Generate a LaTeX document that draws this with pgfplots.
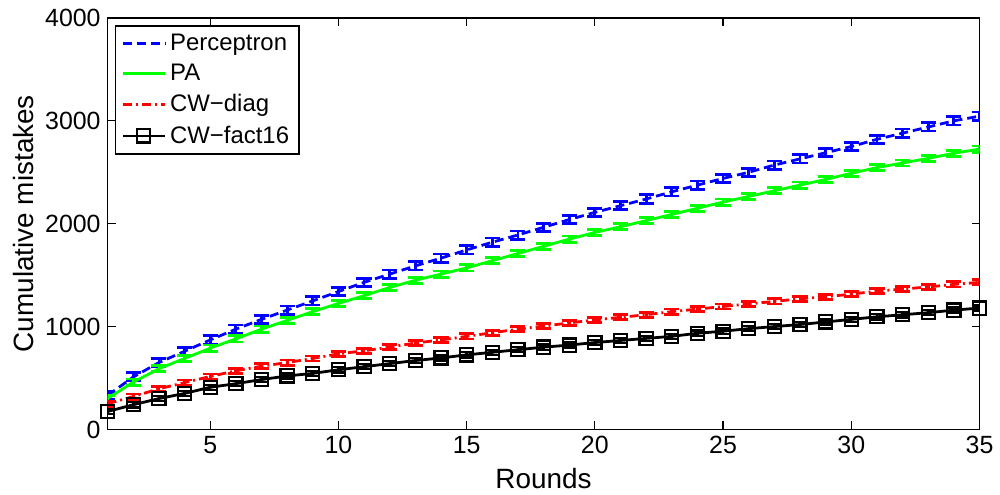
\documentclass[border=0pt]{standalone}
\usepackage{fontspec}
\setmainfont{Liberation Sans}
\usepackage{pgfplots}
\pgfplotsset{compat=1.18}
\usepackage{pgfplotstable}
\pgfplotstableread{
x per pa diag fact
1 330 300 250 175
2 510 460 320 240
3 650 590 395 300
4 760 690 455 350
5 870 790 515 410
6 975 880 570 445
7 1070 975 615 485
8 1160 1060 650 520
9 1250 1145 690 545
10 1340 1225 735 580
11 1430 1300 765 610
12 1510 1380 800 640
13 1590 1450 840 670
14 1665 1510 870 695
15 1745 1570 905 725
16 1820 1640 940 750
17 1890 1710 975 775
18 1965 1780 1005 800
19 2040 1850 1035 820
20 2110 1915 1065 845
21 2175 1970 1090 865
22 2240 2030 1115 885
23 2310 2090 1145 905
24 2375 2150 1170 935
25 2440 2210 1195 955
26 2500 2265 1220 980
27 2570 2320 1245 1000
28 2630 2375 1270 1020
29 2690 2430 1290 1045
30 2750 2490 1315 1070
31 2820 2545 1345 1095
32 2880 2590 1365 1115
33 2940 2635 1385 1135
34 3000 2685 1410 1160
35 3045 2725 1430 1180
}\data
\definecolor{mblue}{rgb}{0,0,1}
\definecolor{mgreen}{rgb}{0,1,0}
\definecolor{mred}{rgb}{1,0,0}
\begin{document}
\begin{tikzpicture}
\begin{axis}[
  scale only axis,
  width=437.5pt, height=206.5pt,
  xmin=1, xmax=35, ymin=0, ymax=4000,
  xtick={5,10,...,35},
  ytick={0,1000,...,4000},
  tick align=inside,
  major tick length=4pt,
  axis line style={line width=0.8pt},
  every tick/.style={black, line width=0.6pt},
  /pgf/number format/assume math mode=true,
  /pgf/number format/1000 sep={},
  scaled y ticks=false,
  tick label style={font=\fontsize{12.5}{14}\selectfont},
  label style={font=\fontsize{14}{16}\selectfont},
  xlabel={Rounds},
  ylabel={Cumulative mistakes},
  xlabel style={yshift=0pt},
  ylabel style={yshift=-1pt},
  legend style={at={(0.008,0.983)}, anchor=north west, draw=black, line width=0.8pt,
    font=\fontsize{12}{14}\selectfont, inner xsep=3pt, inner ysep=2pt, row sep=1.5pt},
  legend cell align=left,
  legend image code/.code={\draw[mark repeat=2,mark phase=2] plot coordinates {(0cm,0cm) (0.37cm,0cm) (0.74cm,0cm)};},
]
\addplot[mblue, line width=1.4pt, dash pattern=on 4.5pt off 2.5pt,
  error bars/.cd, y dir=both, y fixed=40, error mark options={mblue, line width=1.4pt, mark size=3.8pt, solid, rotate=90},
  error bar style={solid, line width=1.4pt}]
  table[x=x,y=per] {\data};
\addlegendentry{Perceptron}
\addplot[mgreen, line width=1.4pt,
  error bars/.cd, y dir=both, y fixed=30, error mark options={mgreen, line width=1.4pt, mark size=3.8pt, solid, rotate=90},
  error bar style={solid, line width=1.4pt}]
  table[x=x,y=pa] {\data};
\addlegendentry{PA}
\addplot[mred, line width=1.4pt, dash pattern=on 4.5pt off 2pt on 1pt off 2pt,
  error bars/.cd, y dir=both, y fixed=25, error mark options={mred, line width=1.4pt, mark size=3.8pt, solid, rotate=90},
  error bar style={solid, line width=1.4pt}]
  table[x=x,y=diag] {\data};
\addlegendentry{CW{\char"2212}diag}
\addplot[black, line width=1.4pt, mark=square, mark size=3.3pt, mark options={solid, line width=1.1pt},
  error bars/.cd, y dir=both, y fixed=25, error mark options={black, line width=1.2pt, mark size=3.5pt, solid, rotate=90},
  error bar style={solid, line width=1.2pt}]
  table[x=x,y=fact] {\data};
\addlegendentry{CW{\char"2212}fact16}
\end{axis}
\path ([xshift=-54pt,yshift=-32pt]current axis.south west) rectangle ([xshift=8.5pt,yshift=9pt]current axis.north east);
\end{tikzpicture}
\end{document}
